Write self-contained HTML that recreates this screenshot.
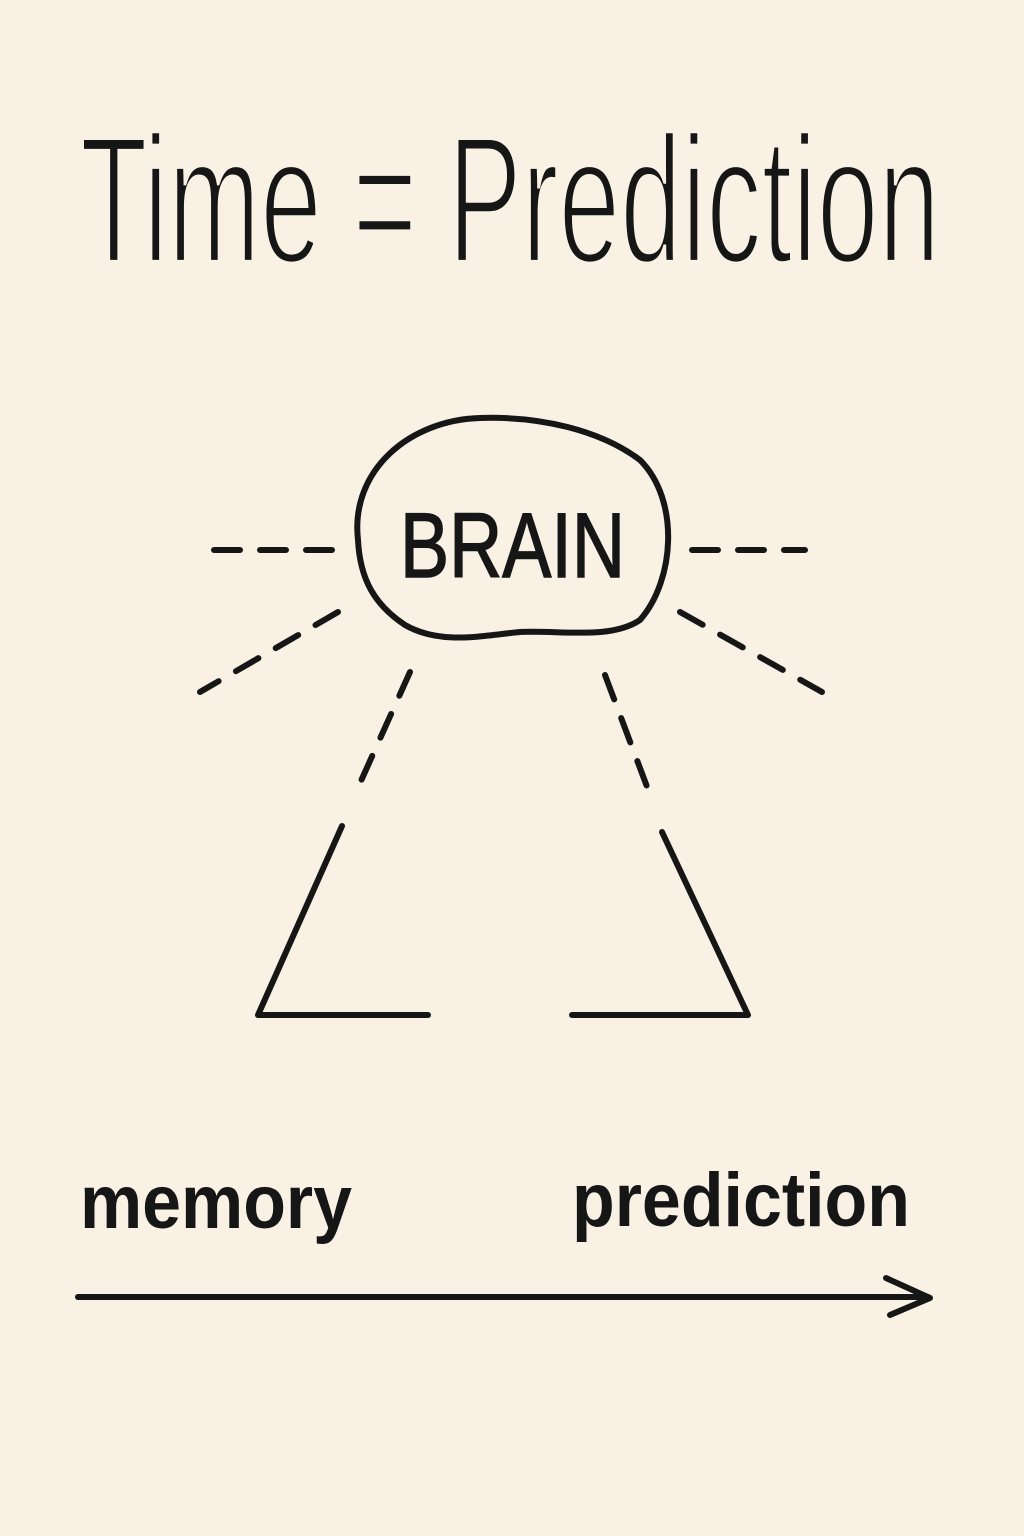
<!DOCTYPE html>
<html><head><meta charset="utf-8"><style>
html,body{margin:0;padding:0;background:#f8f1e4;}
svg{display:block}
</style></head><body>
<svg width="1024" height="1536" viewBox="0 0 1024 1536" xmlns="http://www.w3.org/2000/svg">
<rect width="1024" height="1536" fill="#f8f1e4"/>
<g fill="#161616" font-family="Liberation Sans, sans-serif">
<text transform="scale(1,1.65)" x="80" y="159" font-size="110" textLength="860" lengthAdjust="spacingAndGlyphs" stroke="#f8f1e4" stroke-width="3">Time = Prediction</text>
<text x="400" y="577" font-size="92" textLength="225" lengthAdjust="spacingAndGlyphs" stroke="#161616" stroke-width="1.5">BRAIN</text>
<text x="80" y="1228" font-size="76" font-weight="bold" textLength="272" lengthAdjust="spacingAndGlyphs">memory</text>
<text x="572" y="1226" font-size="76" font-weight="bold" textLength="338" lengthAdjust="spacingAndGlyphs">prediction</text>
</g>
<g fill="none" stroke="#161616" stroke-width="6" stroke-linecap="round" stroke-linejoin="round">
<path d="M358,540 C350,470 410,420 480,418 C540,416 600,430 640,460 C680,500 675,580 640,620 C610,640 560,630 520,632 C480,636 440,645 405,625 C375,605 360,580 358,540 Z"/>
<g stroke-dasharray="26,20">
<line x1="214" y1="550" x2="335" y2="550"/>
<line x1="692" y1="550" x2="805" y2="550"/>
<line x1="338" y1="612" x2="200" y2="692"/>
<line x1="680" y1="612" x2="822" y2="692"/>
<line x1="410" y1="672" x2="356" y2="792"/>
<line x1="605" y1="675" x2="652" y2="800"/>
</g>
<polyline points="342,826 258,1015 428,1015"/>
<polyline points="662,832 748,1015 572,1015"/>
<line x1="78" y1="1297" x2="928" y2="1297"/>
<polyline points="886,1278 930,1298 890,1315"/>
</g>
</svg>
</body></html>
